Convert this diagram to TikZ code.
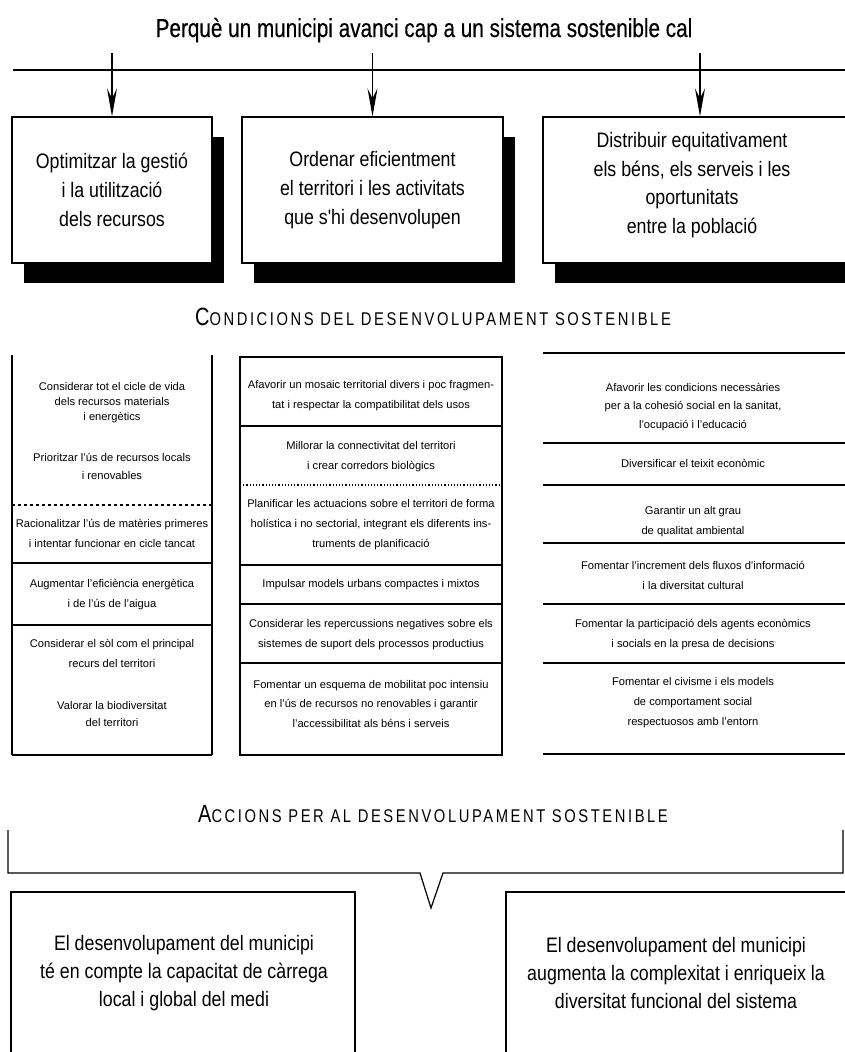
\documentclass[tikz,border=0pt]{standalone}
\usepackage{fontspec}
\setmainfont{Liberation Sans}
\newfontfamily\condf[FakeStretch=0.85]{Liberation Sans}
\newfontfamily\titlef[FakeStretch=0.8,FakeBold=0.4]{Liberation Sans}
\newfontfamily\hdrf[FakeStretch=0.8,LetterSpace=14]{Liberation Sans}
\newcommand\hdrbig[1]{{\fontsize{25}{25}\selectfont #1}}
\usetikzlibrary{arrows.meta,shadows}
\tikzset{
  ln/.style={line width=1.2bp},
  topbox/.style={draw, line width=1.2bp, fill=white, align=center,
    minimum height=146bp, inner sep=2bp,
    font=\condf\fontsize{21}{29}\selectfont,
    drop shadow={shadow xshift=12bp, shadow yshift=-20bp, fill=black, opacity=1, draw=none}},
  boxtext/.style={align=center, inner sep=0pt, font=\condf\fontsize{21}{28.5}\selectfont},
  sm/.style={align=center, inner sep=0pt, font=\fontsize{11.2}{20}\selectfont},
  hdr/.style={anchor=base, inner sep=0pt, font=\hdrf\fontsize{18.5}{18.5}\selectfont},
  arr/.style={line width=1.1bp, -{Stealth[length=28bp,width=10bp,inset=10bp]}}
}
\begin{document}
\begin{tikzpicture}[x=1bp,y=-1bp]
\useasboundingbox (0,0) rectangle (845,1052);
\clip (0,0) rectangle (845,1052);
% title
\node[anchor=base, inner sep=0pt, font=\titlef\fontsize{26}{26}\selectfont] (title) at (424,37) {Perquè un municipi avanci cap a un sistema sostenible cal};
\draw[line width=2bp] (13,70) -- (845,70);
% top boxes
\node[topbox, minimum width=200bp] (b1) at (112,190) {Optimitzar la gestió\\i la utilització\\dels recursos};
\node[topbox, minimum width=261bp] (b2) at (372.5,190) {Ordenar eficientment\\el territori i les activitats\\que s'hi desenvolupen};
\node[topbox, minimum width=314bp] (b3) at (700,190) {};
\node[boxtext] (b3t) at (692,185) {Distribuir equitativament\\els béns, els serveis i les\\oportunitats\\entre la població};
\coordinate (t1) at (112,53);
\coordinate (t2) at (372.5,53);
\coordinate (t3) at (700,53);
\draw[arr] (t1) -- (b1.north);
\draw[arr] (t2) -- (b2.north);
\draw[arr] (t3) -- (b3.north);
% header 1
\node[hdr] (h1) at (433,325) {\hdrbig{C}ONDICIONS DEL DESENVOLUPAMENT SOSTENIBLE};
% column 1
\draw[ln] (12,355) -- (12,755);
\draw[ln] (212,355) -- (212,755);
\draw[ln, dashed] (12,505) -- (212,505);
\draw[ln] (12,563) -- (212,563);
\draw[ln] (12,625) -- (212,625);
\draw[ln] (12,755) -- (212,755);
\node[sm, font=\fontsize{11.2}{15}\selectfont] (c1a) at (112,403) {Considerar tot el cicle de vida\\dels recursos materials\\i energètics};
\node[sm, font=\fontsize{11.2}{18}\selectfont] (c1b) at (112,466) {Prioritzar l'ús de recursos locals\\i renovables};
\node[sm] (c1c) at (112,533) {Racionalitzar l'ús de matèries primeres\\i intentar funcionar en cicle tancat};
\node[sm] (c1d) at (112,595) {Augmentar l'eficiència energètica\\i de l'ús de l'aigua};
\node[sm] (c1e) at (112,653) {Considerar el sòl com el principal\\recurs del territori};
\node[sm, font=\fontsize{11.2}{18}\selectfont] (c1f) at (112,714) {Valorar la biodiversitat\\del territori};
% column 2
\draw[ln] (240,357) rectangle (502,755);
\draw[ln] (240,426) -- (502,426);
\draw[ln, dotted] (240,485) -- (502,485);
\draw[ln] (240,565) -- (502,565);
\draw[ln] (240,604) -- (502,604);
\draw[ln] (240,663) -- (502,663);
\node[sm] (c2a) at (371,396) {Afavorir un mosaic territorial divers i poc fragmen-\\tat i respectar la compatibilitat dels usos};
\node[sm] (c2b) at (371,456.5) {Millorar la connectivitat del territori\\i crear corredors biològics};
\node[sm] (c2c) at (371,525) {Planificar les actuacions sobre el territori de forma\\holística i no sectorial, integrant els diferents ins-\\truments de planificació};
\node[sm] (c2d) at (371,585) {Impulsar models urbans compactes i mixtos};
\node[sm] (c2e) at (371,635) {Considerar les repercussions negatives sobre els\\sistemes de suport dels processos productius};
\node[sm] (c2f) at (371,704) {Fomentar un esquema de mobilitat poc intensiu\\en l'ús de recursos no renovables i garantir\\l'accessibilitat als béns i serveis};
% column 3
\foreach \yy in {353,443,485,543,604,663,754} \draw[ln] (543,\yy) -- (845,\yy);
\node[sm, font=\fontsize{11.2}{19}\selectfont] (c3a) at (693,407) {Afavorir les condicions necessàries\\per a la cohesió social en la sanitat,\\l'ocupació i l'educació};
\node[sm] (c3b) at (693,463) {Diversificar el teixit econòmic};
\node[sm] (c3c) at (693,522) {Garantir un alt grau\\de qualitat ambiental};
\node[sm] (c3d) at (693,575) {Fomentar l'increment dels fluxos d'informació\\i la diversitat cultural};
\node[sm] (c3e) at (693,635) {Fomentar la participació dels agents econòmics\\i socials en la presa de decisions};
\node[sm] (c3f) at (693,703) {Fomentar el civisme i els models\\de comportament social\\respectuosos amb l'entorn};
% header 2
\node[hdr] (h2) at (433,822) {\hdrbig{A}CCIONS PER AL DESENVOLUPAMENT SOSTENIBLE};
% bracket
\draw[ln] (8,830) -- (8,873) -- (420,873) -- (431,908) -- (443,873) -- (843,873) -- (843,830);
% bottom boxes
\draw[ln] (11,1060) -- (11,892) -- (355,892) -- (355,1060);
\draw[ln] (506,1060) -- (506,892) -- (860,892);
\node[boxtext] (d1) at (184,973) {El desenvolupament del municipi\\té en compte la capacitat de càrrega\\local i global del medi};
\node[boxtext] (d2) at (676,973) {El desenvolupament del municipi\\augmenta la complexitat i enriqueix la\\diversitat funcional del sistema};
\end{tikzpicture}
\end{document}
